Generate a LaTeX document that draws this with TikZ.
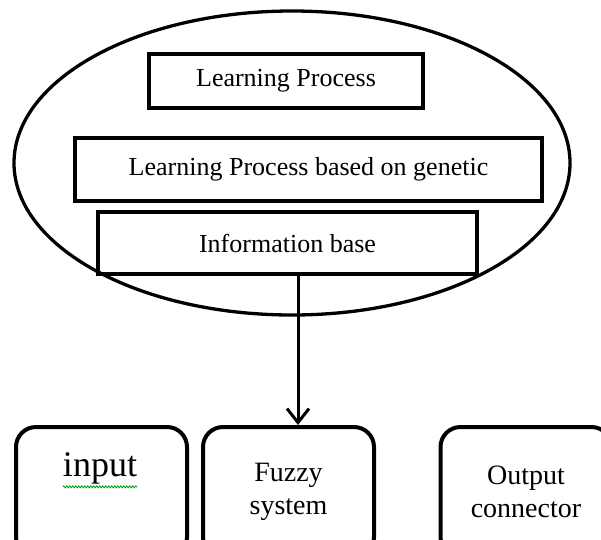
\documentclass[tikz,border=0pt]{standalone}
\usepackage{fontspec}
\setmainfont{Liberation Serif}
\usetikzlibrary{shapes.geometric,arrows.meta,decorations.pathmorphing}
\begin{document}
\begin{tikzpicture}[x=1pt,y=-1pt,
	sq/.style={draw,line width=4.5pt,inner sep=0pt,font=\fontsize{26}{31}\selectfont},
	rbox/.style={draw,rounded corners=20pt,line width=4pt,minimum width=171pt,minimum height=130pt,align=center,font=\fontsize{28}{33}\selectfont}]
\useasboundingbox (0,0) rectangle (601,539);
\clip (0,0) rectangle (601,539);
%ellipse
\node[draw,ellipse,line width=3.3pt,minimum width=556pt,minimum height=304pt] (cloud) at (292,163) {};
% boxes
\node[sq,minimum width=274pt,minimum height=54pt] (learn) at (286,81) {Learning Process};
\node[sq,minimum width=467pt,minimum height=63pt] (genetic) at (308.5,169.5) {Learning Process based on genetic};
\node[sq,minimum width=379pt,minimum height=62pt] (info) at (287.5,243) {Information base};
% bottom row
\node[rbox] (input) at (101.5,492) {};
\node[rbox] (fuzzy) at (288.5,492) {Fuzzy\\system};
\node[rbox] (output) at (526,492) {Output\\connector};
\node[anchor=base,inner sep=0pt,font=\fontsize{36}{40}\selectfont] (inputtext) at (100,476) {input};
\draw[green!60!black,line width=0.8pt,decorate,decoration={snake,amplitude=1pt,segment length=3pt}]
	(inputtext.south west) ++(0,3) coordinate (wl) -- (inputtext.south east |- wl);
% arrow
\coordinate (tap) at (298,274);
\draw[line width=3pt,-{Straight Barb[length=14pt,width=22pt]}] (tap) -- (tap |- fuzzy.north);
\end{tikzpicture}
\end{document}
